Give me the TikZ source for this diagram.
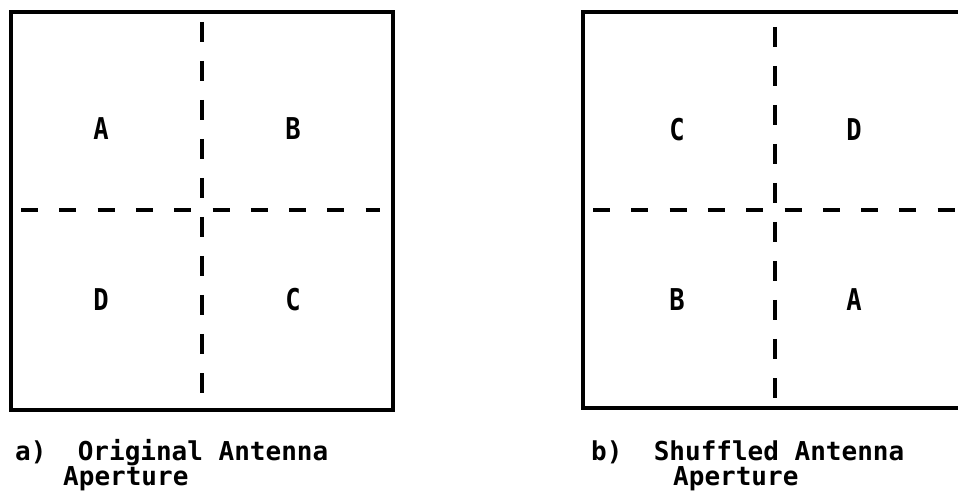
\documentclass[tikz,border=0pt]{standalone}
\usepackage{fontspec}
\usepackage{graphicx}
\newfontfamily\monofont{DejaVu Sans Mono}
\tikzset{
  boxline/.style={line width=3.5pt},
  dashline/.style={line width=4pt, dash pattern=on 20pt off 19pt},
  hdashline/.style={line width=4pt, dash pattern=on 17pt off 21.3pt},
  quad/.style={font=\monofont\bfseries\fontsize{30}{30}\selectfont, inner sep=0pt},
  captxt/.style={font=\monofont\bfseries\fontsize{26}{26}\selectfont, inner sep=0pt, anchor=base west}
}
\newcommand{\nl}[1]{\scalebox{0.85}[1]{#1}}
\begin{document}
\begin{tikzpicture}[x=1pt,y=1pt]
\useasboundingbox (0,0) rectangle (958,501);
\clip (0,0) rectangle (958,501);
% left box
\draw[boxline] (11,489) rectangle (393,91);
\coordinate (lvt) at (202,479);
\coordinate (lvb) at (202,103);
\coordinate (lhl) at (21,291);
\coordinate (lhr) at (380,291);
\draw[dashline] (lvt) -- (lvb);
\draw[hdashline] (lhl) -- (lhr);
\node[quad] (la) at (101,372) {\nl{A}};
\node[quad] (lb) at (293,372) {\nl{B}};
\node[quad] (ld) at (101,201) {\nl{D}};
\node[quad] (lc) at (293,201) {\nl{C}};
% right box
\draw[boxline] (583,489) rectangle (968,93);
\coordinate (rvt) at (775,474);
\coordinate (rvb) at (775,99);
\coordinate (rhl) at (593,291);
\coordinate (rhr) at (960,291);
\draw[dashline] (rvt) -- (rvb);
\draw[hdashline] (rhl) -- (rhr);
\node[quad] (rc) at (677,371) {\nl{C}};
\node[quad] (rd) at (854,371) {\nl{D}};
\node[quad] (rb) at (677,201) {\nl{B}};
\node[quad] (ra) at (854,201) {\nl{A}};
% captions
\node[captxt] (capa1) at (15,41) {a)~~Original Antenna};
\node[captxt] (capa2) at (63,16) {Aperture};
\node[captxt] (capb1) at (591,41) {b)~~Shuffled Antenna};
\node[captxt] (capb2) at (673,16) {Aperture};
\end{tikzpicture}
\end{document}
